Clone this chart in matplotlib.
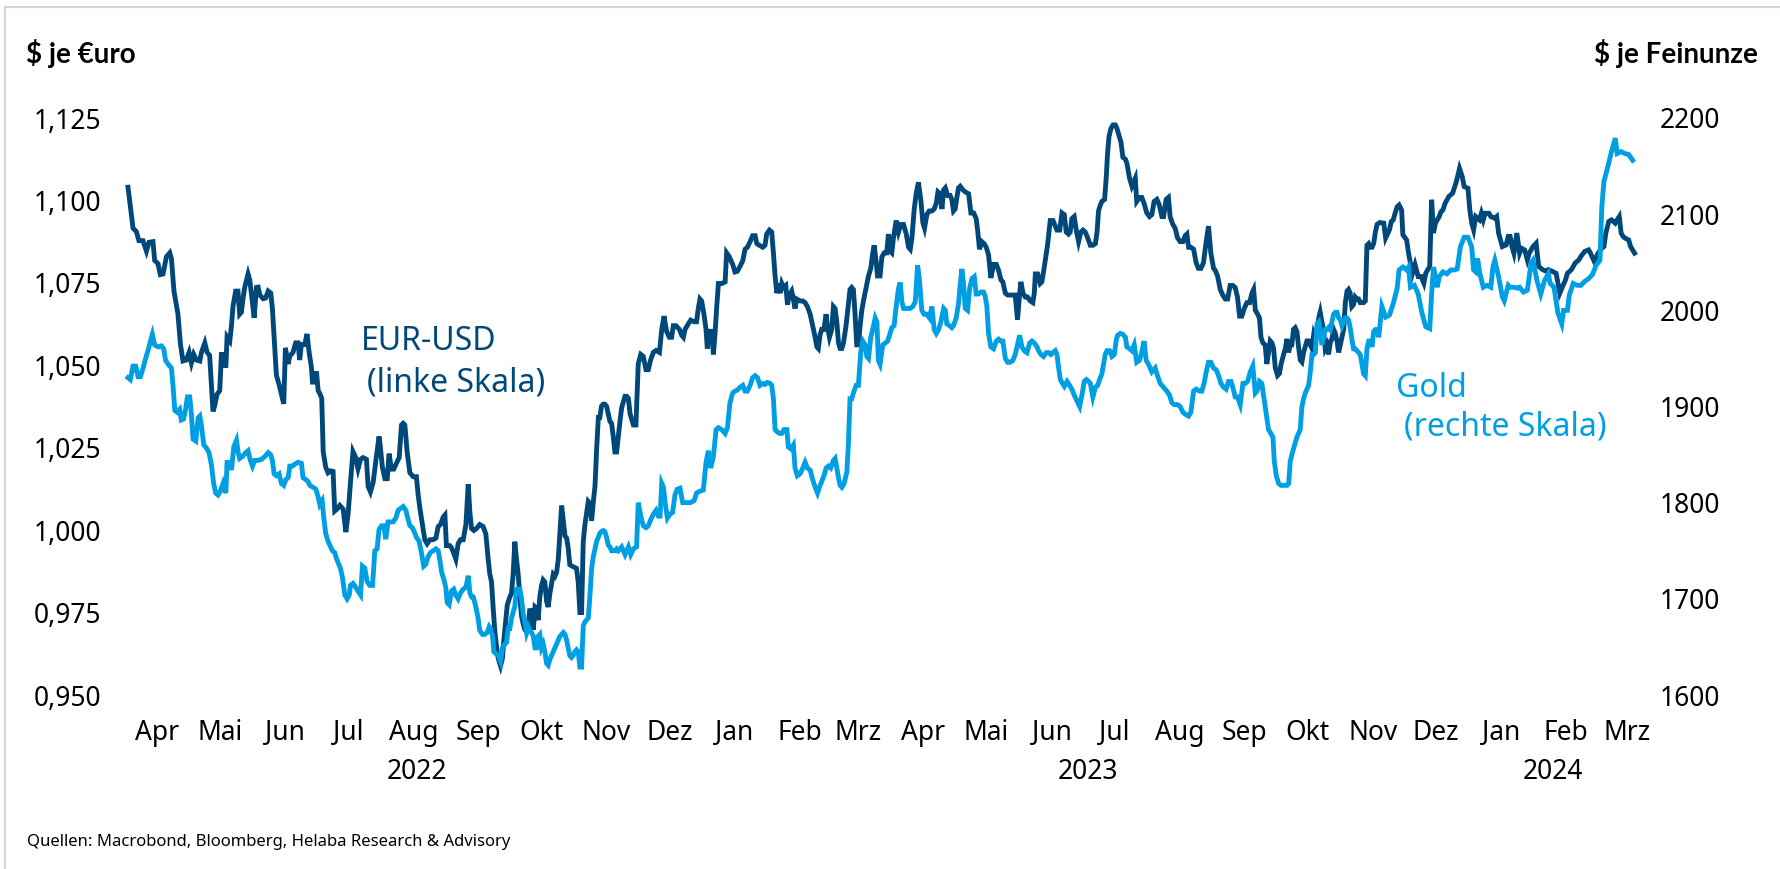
import datetime as dt
import matplotlib
matplotlib.use("Agg")
import matplotlib.pyplot as plt
from matplotlib.lines import Line2D

plt.rcParams['font.family'] = ['Noto Sans', 'DejaVu Sans']

# Tage seit 01.04.2022 und Werte
eur_day = [
    0, 2.4, 4.0, 5.2, 7.1, 8.8, 10.0, 11.9, 12.7, 14.3,
    15.4, 16.7, 18.3, 19.9, 20.7, 21.9, 23.8, 25.0, 26.2, 27.8,
    29.1, 30.2, 31.3, 32.6, 34.2, 35.0, 36.6, 37.7, 38.9, 40.5,
    41.3, 42.4, 43.7, 44.5, 45.3, 46.6, 47.2, 48.5, 49.3, 50.0,
    51.3, 52.4, 53.2, 54.0, 54.8, 55.6, 57.2, 58.0, 59.3, 60.1,
    61.2, 62.0, 62.8, 64.4, 65.6, 66.8, 68.0, 68.8, 69.6, 70.7,
    72.0, 73.1, 74.2, 75.0, 76.3, 77.1, 78.6, 79.9, 81.0, 81.8,
    82.6, 84.2, 85.3, 86.3, 87.4, 87.9, 89.0, 89.8, 90.6, 91.4,
    92.3, 93.0, 94.2, 95.3, 96.5, 97.7, 98.5, 99.6, 100.9, 102.5,
    103.8, 104.9, 106.0, 107.2, 108.5, 109.6, 110.8, 112.0, 113.6, 114.4,
    115.5, 116.8, 118.4, 119.6,
    120.0, 121.2, 122.4, 123.5, 124.4, 125.5, 126.6, 127.9, 129.2, 130.3,
    131.1, 131.9, 133.0, 134.3, 135.9, 137.4, 138.2, 139.0, 140.3, 141.4,
    142.5, 143.8, 145.4, 146.7, 147.8, 148.9, 150.2, 151.0, 151.7, 153.3,
    154.1, 155.2, 156.2, 157.3, 158.4, 159.7, 161.0, 162.1, 162.9, 163.7,
    164.8, 166.0, 167.6, 169.2, 170.5, 171.6, 172.4, 173.2, 174.0, 174.8,
    175.6, 176.4, 177.5, 178.4, 179.1, 180.0, 180.7, 181.9, 182.7, 183.5,
    184.3, 185.1, 185.9, 186.7, 187.5, 188.3, 189.1, 189.9, 190.7, 191.5,
    192.3, 193.1, 193.9, 194.7, 195.4, 196.2, 197.0, 197.8, 198.6, 199.4,
    200.2, 201.0, 201.8, 202.6, 203.4, 204.2, 205.0, 205.8, 206.6, 207.4,
    208.2, 209.0, 209.7, 210.5, 212.1, 213.7, 214.5, 215.3, 216.1, 216.9,
    217.7, 218.5, 219.3, 220.1, 220.9, 221.7, 222.5, 223.3, 224.1, 224.8,
    225.6, 226.4, 227.2, 228.0, 228.8, 229.6, 230.4, 231.2, 232.0, 232.8,
    233.6, 234.4, 235.2, 236.0, 236.8, 237.6, 238.4,
    239.2, 240.8, 242.0, 243.1, 244.3, 245.5, 246.8, 247.9, 249.0, 250.3,
    251.6, 253.2, 254.3, 255.4, 256.6, 257.9, 259.0, 259.8, 261.1, 262.7,
    263.8, 264.6, 265.4, 267.0, 268.1, 269.7, 270.9, 271.7, 272.5, 273.3,
    274.4, 275.4, 276.0, 277.0, 278.1, 278.9, 279.7, 280.5, 281.3, 282.9,
    284.5, 285.2, 286.5, 288.1, 289.2, 290.3, 291.6, 292.9, 294.0, 295.1,
    296.4, 297.6, 298.8, 299.6, 300.8, 302.4, 303.5, 304.3, 305.6, 306.7,
    307.5, 308.3, 309.1, 309.9, 310.7, 311.5, 312.3, 313.4, 314.2, 315.1,
    316.2, 317.0, 317.8, 318.6, 320.2, 321.5, 322.6, 323.7, 325.0, 326.2,
    327.4, 328.2, 328.9, 329.7, 330.5, 331.6, 332.6, 333.2, 334.2, 335.3,
    336.1, 336.9, 337.7, 338.5, 339.3, 340.1, 340.9, 342.1, 343.2, 344.0,
    344.8, 345.6, 346.4, 347.2, 348.0, 348.8, 349.6, 350.4, 351.7, 352.8,
    353.9, 354.7, 355.5, 356.4, 357.1, 358.3,
    359.2, 360.3, 361.5, 362.3, 363.1, 363.9, 364.7, 366.0, 367.1, 368.2,
    369.5, 370.8, 371.9, 372.7, 373.5, 374.6, 375.5, 376.6, 377.8, 378.7,
    379.5, 380.6, 381.7, 383.0, 384.1, 385.1, 385.9, 387.0, 387.8, 388.6,
    389.4, 390.5, 391.7, 392.5, 393.3, 394.1, 394.9, 395.7, 396.5, 397.8,
    398.9, 400.5, 401.6, 402.9, 404.1, 404.8, 405.7, 406.8, 407.9, 408.9,
    410.0, 411.1, 412.4, 413.7, 414.8, 415.9, 416.8, 418.0, 419.1, 420.3,
    421.6, 422.7, 423.8, 424.6, 425.4, 426.4, 427.5, 428.6, 429.9, 431.1,
    431.8, 432.3, 433.4, 434.6, 435.4, 436.2, 437.0, 438.1, 439.4, 440.7,
    441.8, 442.6, 443.9, 445.0, 446.1, 447.0, 448.1, 448.9, 449.7, 450.8,
    451.8, 452.9, 454.0, 455.0, 456.1, 457.2, 458.5, 459.7, 460.9, 461.7,
    462.4, 463.2, 464.0, 465.3, 466.1, 466.7, 467.4, 468.3, 469.3, 470.4,
    471.2, 472.0, 473.1, 474.0, 475.2, 475.9, 477.2,
    478.3, 479.9, 480.6, 481.9, 483.0, 484.1, 485.4, 486.7, 487.8, 488.9,
    490.2, 491.4, 492.6, 493.4, 494.6, 495.7, 496.5, 497.8, 498.9, 500.0,
    501.3, 502.6, 503.7, 504.5, 505.3, 506.4, 507.7, 508.9, 510.0, 511.2,
    512.4, 513.7, 514.8, 515.9, 517.2, 518.0, 519.1, 520.4, 521.6, 522.8,
    523.9, 525.1, 526.4, 527.5, 528.6, 529.6, 530.7, 531.8, 533.1, 534.4,
    535.5, 536.3, 537.1, 538.2, 539.1, 539.8, 540.7, 541.8, 542.6, 543.4,
    544.2, 545.0, 545.8, 546.6, 547.7, 548.6, 549.4, 550.6, 551.4, 552.2,
    553.0, 553.7, 554.5, 555.3, 556.1, 556.9, 557.7, 558.5, 559.3, 560.1,
    560.9, 561.7, 562.5, 563.3, 564.1, 564.9, 565.7, 566.5, 567.3, 568.0,
    568.8, 569.6, 570.4, 571.2, 572.0, 572.8, 573.6, 574.4, 575.2, 576.0,
    576.8, 577.6, 578.4, 579.2, 580.0, 580.8, 581.5, 582.3, 583.1, 583.9,
    584.7, 585.5, 586.3, 587.1, 588.7, 589.5, 590.3, 591.1, 591.9, 592.7,
    593.5, 594.3, 595.1, 596.4,
    598.3, 599.2, 601.0, 601.9, 602.8, 603.7, 604.7, 605.6, 606.8, 607.4,
    609.2, 610.1, 611.0, 612.0, 613.2, 614.7, 616.1, 617.4, 618.3, 620.2,
    621.1, 622.0, 622.9, 624.7, 625.6, 626.5, 627.5, 629.3, 631.1, 632.9,
    634.4, 635.7, 636.6, 638.4, 639.3, 640.2, 641.1, 642.1, 643.9, 644.8,
    645.7, 646.6, 648.4, 649.3, 651.2, 652.1, 653.0, 654.8, 656.6, 657.6,
    658.5, 659.4, 660.3, 661.7, 663.0, 663.9, 665.4, 666.7, 667.6, 669.4,
    670.9, 672.1, 674.0, 675.8, 676.7, 678.5, 680.4, 681.3, 682.2, 683.5,
    684.9, 685.8, 687.7, 689.5, 691.3, 692.2, 694.0, 695.9, 696.8, 698.6,
    700.4, 702.2, 703.2, 704.1, 705.5, 706.8, 708.6, 709.5, 710.5, 711.4,
    712.3, 713.2, 715.0, 715.9, 717.8,
]
eur_usd = [
    1.104, 1.0916, 1.0905, 1.0878, 1.0878, 1.0846, 1.0873, 1.0875, 1.0818, 1.0808,
    1.0775, 1.0777, 1.0829, 1.0841, 1.0823, 1.0725, 1.0655, 1.0563, 1.0513, 1.0516,
    1.0539, 1.0507, 1.0533, 1.0516, 1.0513, 1.0539, 1.0568, 1.0539, 1.0530, 1.0360,
    1.0377, 1.0412, 1.0423, 1.0533, 1.0533, 1.0493, 1.0586, 1.0574, 1.0620, 1.0678,
    1.0725, 1.0725, 1.0655, 1.0661, 1.0702, 1.0736, 1.0777, 1.0759, 1.0690, 1.0644,
    1.0736, 1.0737, 1.0713, 1.0702, 1.0704, 1.0725, 1.0719, 1.0672, 1.0586, 1.0470,
    1.0441, 1.0412, 1.0383, 1.0553, 1.0504, 1.0528, 1.0539, 1.0568, 1.0568, 1.0516,
    1.0563, 1.0563, 1.0595, 1.0539, 1.0493, 1.0449, 1.0449, 1.0481, 1.0423, 1.0414,
    1.0400, 1.0238, 1.0191, 1.0174, 1.0180, 1.0178, 1.0058, 1.0064, 1.0075, 1.0064,
    0.9994, 1.0052, 1.0145, 1.0238, 1.0220, 1.0186, 1.0215, 1.0220, 1.0215, 1.0133,
    1.0116, 1.0145, 1.0226, 1.0284,
    1.0266, 1.0191, 1.0156, 1.0156, 1.0232, 1.0185, 1.0185, 1.0203, 1.0220, 1.0319,
    1.0324, 1.0319, 1.0237, 1.0174, 1.0162, 1.0162, 1.0110, 1.0069, 1.0017, 0.9971,
    0.9959, 0.9971, 0.9971, 0.9976, 1.0011, 1.0017, 1.0040, 1.0046, 0.9953, 0.9953,
    0.9947, 0.9930, 0.9912, 0.9959, 0.9971, 0.9971, 1.0017, 1.0139, 1.0052, 1.0005,
    0.9999, 1.0005, 1.0017, 1.0011, 0.9988, 0.9912, 0.9866, 0.9843, 0.9762, 0.9692,
    0.9646, 0.9611, 0.9588, 0.9611, 0.9669, 0.9727, 0.9773, 0.9797, 0.9808, 0.9866,
    0.9965, 0.9912, 0.9866, 0.9797, 0.9739, 0.9715, 0.9698, 0.9692, 0.9715, 0.9762,
    0.9744, 0.9698, 0.9767, 0.9762, 0.9727, 0.9797, 0.9831, 0.9849, 0.9843, 0.9785,
    0.9767, 0.9808, 0.9838, 0.9866, 0.9860, 0.9872, 0.9912, 0.9994, 1.0075, 1.0029,
    0.9982, 0.9976, 0.9947, 0.9895, 0.9889, 0.9884, 0.9843, 0.9750, 0.9750, 0.9965,
    1.0017, 1.0052, 1.0087, 1.0081, 1.0029, 1.0087, 1.0133, 1.0249, 1.0342, 1.0342,
    1.0376, 1.0382, 1.0382, 1.0376, 1.0353, 1.0330, 1.0324, 1.0284, 1.0237, 1.0237,
    1.0284, 1.0330, 1.0371, 1.0388, 1.0406, 1.0406, 1.0400,
    1.0353, 1.0319, 1.0319, 1.0504, 1.0533, 1.0527, 1.0487, 1.0487, 1.0516, 1.0539,
    1.0545, 1.0539, 1.0609, 1.0649, 1.0603, 1.0585, 1.0585, 1.0620, 1.0620, 1.0609,
    1.0591, 1.0585, 1.0609, 1.0626, 1.0637, 1.0632, 1.0632, 1.0672, 1.0701, 1.0695,
    1.0655, 1.0609, 1.0551, 1.0603, 1.0603, 1.0533, 1.0597, 1.0678, 1.0748, 1.0748,
    1.0753, 1.0841, 1.0829, 1.0806, 1.0783, 1.0785, 1.0800, 1.0817, 1.0852, 1.0858,
    1.0875, 1.0893, 1.0893, 1.0869, 1.0864, 1.0858, 1.0864, 1.0898, 1.0910, 1.0904,
    1.0841, 1.0771, 1.0719, 1.0748, 1.0719, 1.0748, 1.0736, 1.0742, 1.0684, 1.0713,
    1.0725, 1.0701, 1.0672, 1.0701, 1.0695, 1.0695, 1.0690, 1.0678, 1.0655, 1.0620,
    1.0585, 1.0556, 1.0551, 1.0591, 1.0609, 1.0609, 1.0655, 1.0620, 1.0585, 1.0609,
    1.0678, 1.0672, 1.0632, 1.0568, 1.0551, 1.0551, 1.0568, 1.0620, 1.0684, 1.0730,
    1.0736, 1.0730, 1.0655, 1.0562, 1.0562, 1.0620, 1.0666, 1.0695, 1.0736, 1.0771,
    1.0794, 1.0835, 1.0864, 1.0817, 1.0771, 1.0771,
    1.0829, 1.0841, 1.0841, 1.0898, 1.0846, 1.0841, 1.0887, 1.0939, 1.0904, 1.0927,
    1.0927, 1.0898, 1.0858, 1.0852, 1.0887, 1.0974, 1.1020, 1.1055, 1.0997, 1.0933,
    1.0916, 1.0957, 1.0968, 1.0968, 1.0974, 1.0991, 1.1026, 1.1020, 1.0974, 1.1032,
    1.1038, 1.1015, 1.1015, 1.1003, 1.0968, 1.0974, 1.1009, 1.1038, 1.1043, 1.1032,
    1.1026, 1.1020, 1.0962, 1.0962, 1.0945, 1.0910, 1.0852, 1.0875, 1.0869, 1.0858,
    1.0835, 1.0765, 1.0806, 1.0806, 1.0788, 1.0759, 1.0753, 1.0719, 1.0713, 1.0713,
    1.0713, 1.0713, 1.0638, 1.0701, 1.0753, 1.0719, 1.0707, 1.0707, 1.0695, 1.0690,
    1.0719, 1.0777, 1.0777, 1.0748, 1.0753, 1.0783, 1.0817, 1.0864, 1.0939, 1.0939,
    1.0922, 1.0910, 1.0910, 1.0962, 1.0957, 1.0904, 1.0898, 1.0904, 1.0945, 1.0951,
    1.0910, 1.0875, 1.0904, 1.0910, 1.0904, 1.0887, 1.0864, 1.0864, 1.0869, 1.0904,
    1.0968, 1.0985, 1.0997, 1.1003, 1.1072, 1.1142, 1.1194, 1.1218, 1.1229, 1.1229,
    1.1218, 1.1200, 1.1177, 1.1131, 1.1125, 1.1113, 1.1067,
    1.1043, 1.1067, 1.0997, 1.1009, 1.1009, 1.0991, 1.0962, 1.0951, 1.0957, 1.0997,
    1.1003, 1.0986, 1.0951, 1.0951, 1.1003, 1.1009, 1.0951, 1.0927, 1.0916, 1.0887,
    1.0875, 1.0875, 1.0893, 1.0898, 1.0858, 1.0858, 1.0852, 1.0811, 1.0794, 1.0794,
    1.0811, 1.0875, 1.0922, 1.0841, 1.0794, 1.0788, 1.0771, 1.0730, 1.0713, 1.0701,
    1.0701, 1.0742, 1.0742, 1.0736, 1.0707, 1.0649, 1.0649, 1.0672, 1.0690, 1.0690,
    1.0719, 1.0730, 1.0667, 1.0655, 1.0643, 1.0585, 1.0568, 1.0562, 1.0504, 1.0539,
    1.0574, 1.0568, 1.0551, 1.0493, 1.0469, 1.0475, 1.0504, 1.0533, 1.0551, 1.0580,
    1.0539, 1.0562, 1.0562, 1.0609, 1.0614, 1.0603, 1.0556, 1.0516, 1.0510, 1.0539,
    1.0556, 1.0574, 1.0574, 1.0562, 1.0551, 1.0591, 1.0574, 1.0609, 1.0643, 1.0661,
    1.0632, 1.0609, 1.0551, 1.0562, 1.0533, 1.0568, 1.0580, 1.0609, 1.0597, 1.0574,
    1.0539, 1.0562, 1.0585, 1.0609, 1.0690, 1.0725, 1.0730, 1.0719, 1.0678, 1.0684,
    1.0707, 1.0701, 1.0701, 1.0690, 1.0690, 1.0695, 1.0864, 1.0869, 1.0858, 1.0858,
    1.0869, 1.0904, 1.0927, 1.0933,
    1.0931, 1.0886, 1.0911, 1.0936, 1.0941, 1.0961, 1.0981, 1.0986, 1.0971, 1.0896,
    1.0880, 1.0840, 1.0810, 1.0779, 1.0805, 1.0769, 1.0769, 1.0749, 1.0779, 1.0800,
    1.1002, 1.0901, 1.0931, 1.0951, 1.0966, 1.0971, 1.0991, 1.1012, 1.1022, 1.1057,
    1.1097, 1.1072, 1.1042, 1.1037, 1.0971, 1.0931, 1.0911, 1.0951, 1.0941, 1.0961,
    1.0941, 1.0961, 1.0961, 1.0951, 1.0946, 1.0951, 1.0901, 1.0860, 1.0865, 1.0891,
    1.0891, 1.0860, 1.0840, 1.0901, 1.0840, 1.0855, 1.0850, 1.0820, 1.0840, 1.0860,
    1.0870, 1.0800, 1.0790, 1.0785, 1.0790, 1.0785, 1.0779, 1.0749, 1.0719, 1.0739,
    1.0759, 1.0779, 1.0790, 1.0810, 1.0820, 1.0830, 1.0845, 1.0850, 1.0840, 1.0815,
    1.0840, 1.0855, 1.0860, 1.0901, 1.0936, 1.0941, 1.0931, 1.0941, 1.0951, 1.0901,
    1.0891, 1.0886, 1.0880, 1.0860, 1.0840,
]

gold_day = [
    0.0, 1.1, 2.4, 3.7, 4.8, 5.9, 7.2, 8.4, 9.5, 10.7,
    11.6, 12.7, 14.3, 15.9, 17.0, 17.9, 19.1, 20.7, 21.5, 22.3,
    23.4, 24.6, 25.4, 26.5, 27.5, 28.3, 29.4, 30.2, 31.0, 32.3,
    33.4, 34.2, 35.0, 36.1, 37.3, 38.6, 39.7, 40.8, 41.8, 42.9,
    44.0, 45.3, 46.6, 47.2, 48.5, 49.3, 50.4, 51.7, 52.5, 53.2,
    54.5, 56.1, 57.2, 58.3, 59.3, 60.4, 62.0, 63.6, 65.2, 66.8,
    67.9, 68.8, 69.6, 70.7, 72.0, 73.1, 74.2, 75.2, 76.3, 77.1,
    78.3, 79.5, 81.0, 82.6, 83.4, 84.7, 85.8, 86.6, 88.2, 89.5,
    90.6, 91.4, 92.5, 93.3, 94.2, 95.3, 96.1, 97.4, 98.5, 99.3,
    100.4, 101.2, 102.2, 103.3, 104.4, 105.4, 106.0, 107.2, 108.5, 109.6,
    110.8, 111.7, 112.8, 113.9, 115.2, 116.5, 117.6, 118.7,
    119.6, 120.8, 121.9, 122.8, 123.9, 125.1, 126.3, 127.6, 128.7, 129.8,
    131.1, 132.4, 133.5, 134.3, 135.5, 136.7, 137.4, 138.7, 139.8, 140.9,
    141.9, 143.0, 144.1, 145.4, 146.7, 147.8, 148.6, 149.4, 150.5, 151.4,
    152.1, 153.0, 154.1, 155.2, 156.2, 157.3, 158.4, 159.7, 161.0, 162.1,
    162.9, 163.7, 164.5, 165.7, 166.8, 167.6, 168.9, 170.0, 171.1, 172.1,
    172.7, 173.7, 174.3, 175.3, 176.4, 177.5, 178.4, 179.6, 180.4, 181.1,
    181.9, 182.7, 183.5, 184.3, 185.1, 185.9, 186.7, 187.5, 188.3, 189.1,
    189.9, 190.7, 191.5, 192.3, 193.1, 193.9, 194.7, 195.4, 196.2, 197.0,
    197.8, 198.6, 199.4, 200.2, 201.0, 201.8, 202.6, 203.4, 204.2, 205.0,
    205.8, 206.6, 207.4, 208.2, 209.0, 209.7, 210.5, 211.3, 212.1, 212.9,
    213.7, 214.5, 215.3, 216.1, 216.9, 217.7, 218.5, 219.3, 220.1, 220.9,
    221.7, 222.5, 223.3, 224.1, 224.8, 225.6, 226.4, 227.2, 228.0, 228.8,
    229.6, 230.4, 231.2, 232.0, 232.8, 233.6, 234.4, 235.2, 236.8, 238.4,
    239.5, 240.8, 242.3, 243.1, 244.3, 245.5, 246.8, 247.9, 249.0, 250.3,
    251.6, 252.7, 253.5, 254.3, 255.1, 255.9, 257.0, 258.2, 259.5, 260.6,
    261.7, 263.0, 264.3, 265.9, 267.8, 269.7, 270.9, 272.5, 274.1, 275.4,
    276.5, 277.6, 278.9, 280.2, 281.3, 282.9, 284.5, 285.6, 286.8, 288.1,
    289.2, 290.3, 291.6, 292.9, 294.0, 295.1, 296.4, 297.6, 298.8, 299.9,
    301.1, 302.4, 303.5, 304.6, 305.9, 306.7, 307.5, 308.3, 309.1, 310.4,
    311.5, 312.6, 313.9, 314.6, 315.8, 317.0, 317.8, 318.9, 320.2, 321.5,
    322.6, 323.7, 325.0, 326.2, 327.4, 328.5, 329.4, 330.5, 331.6, 332.6,
    333.7, 334.8, 336.1, 336.9, 337.7, 338.5, 339.3, 340.1, 341.2, 342.5,
    343.2, 344.0, 344.8, 345.9, 346.9, 348.0, 349.1, 350.1, 351.2, 352.0,
    352.8, 353.9, 354.8, 356.0, 356.8, 357.5, 358.3,
    359.6, 360.8, 361.9, 362.8, 363.9, 365.0, 366.0, 367.1, 367.9, 368.7,
    369.5, 371.1, 372.7, 373.9, 375.1, 376.2, 377.1, 378.2, 379.3, 380.6,
    381.9, 383.0, 384.1, 385.1, 386.2, 387.3, 388.6, 389.4, 390.1, 391.4,
    392.5, 393.3, 394.6, 395.7, 396.5, 397.3, 398.1, 398.9, 400.0, 401.0,
    402.1, 403.2, 404.1, 405.2, 406.4, 407.6, 408.4, 409.2, 410.0, 411.1,
    412.4, 413.7, 414.8, 415.9, 416.8, 418.0, 419.1, 420.3, 421.6, 422.7,
    423.8, 424.8, 425.9, 427.0, 428.3, 429.6, 430.7, 431.8, 433.1, 433.8,
    435.0, 436.2, 437.5, 438.6, 439.7, 440.7, 441.8, 442.6, 443.4, 444.2,
    445.0, 446.1, 447.4, 448.6, 449.7, 450.8, 452.1, 453.4, 454.5, 455.6,
    456.6, 457.7, 458.5, 459.7, 460.9, 462.0, 462.9, 464.0, 464.8, 465.6,
    466.4, 467.7, 468.8, 469.9, 470.9, 471.5, 472.8, 474.0, 475.2, 475.9,
    477.2,
    478.3, 479.4, 480.6, 481.9, 483.0, 484.1, 485.1, 486.2, 487.8, 489.4,
    490.5, 491.8, 493.4, 494.9, 496.2, 497.3, 498.4, 500.0, 501.3, 502.6,
    503.7, 505.3, 506.4, 507.7, 508.9, 510.5, 511.6, 512.7, 513.7, 514.8,
    515.9, 517.2, 518.5, 519.6, 520.7, 522.0, 523.2, 524.3, 525.5, 526.4,
    527.5, 528.6, 529.9, 531.2, 532.3, 533.4, 534.7, 535.9, 537.1, 537.9,
    539.1, 540.2, 541.0, 542.3, 543.4, 544.5, 545.5, 546.1, 547.1, 548.2,
    549.3, 550.6, 552.2, 553.0, 553.7, 554.5, 555.3, 556.1, 556.9, 557.7,
    558.5, 559.3, 560.1, 560.9, 561.7, 562.5, 563.3, 564.1, 564.9, 565.7,
    566.5, 567.3, 568.0, 568.8, 569.6, 570.4, 571.2, 572.0, 572.8, 573.6,
    574.4, 575.2, 576.0, 576.8, 577.6, 578.4, 579.2, 580.0, 580.8, 581.5,
    582.3, 583.1, 583.9, 584.7, 585.5, 586.3, 587.1, 587.9, 588.7, 589.5,
    590.3, 591.1, 591.9, 592.7, 593.5, 594.3, 595.1, 595.9,
    597.4, 599.2, 601.0, 602.8, 604.7, 605.6, 607.4, 609.2, 610.1, 611.0,
    612.9, 614.7, 616.5, 618.3, 620.2, 621.1, 622.0, 622.9, 623.8, 624.7,
    626.5, 628.4, 630.2, 632.0, 633.3, 634.8, 636.6, 638.4, 640.2, 641.1,
    642.1, 643.0, 643.9, 645.7, 647.5, 649.3, 650.3, 651.2, 653.0, 654.8,
    655.7, 657.6, 658.5, 660.3, 662.1, 663.0, 664.9, 666.7, 668.5, 669.4,
    671.3, 673.1, 674.9, 676.7, 677.6, 679.4, 681.3, 683.1, 684.0, 685.8,
    686.7, 688.6, 690.4, 692.2, 694.0, 695.9, 697.7, 699.5, 701.3, 702.2,
    703.2, 705.0, 706.8, 708.6, 709.5, 711.4, 713.2, 715.0, 716.9,
]
gold = [
    1930, 1928, 1942, 1942, 1931, 1931, 1940, 1950, 1958, 1968,
    1975, 1964, 1962, 1963, 1960, 1948, 1944, 1940, 1920, 1896,
    1894, 1897, 1886, 1887, 1898, 1910, 1910, 1892, 1866, 1864,
    1888, 1890, 1880, 1860, 1857, 1852, 1840, 1820, 1810, 1808,
    1812, 1820, 1810, 1842, 1842, 1834, 1858, 1865, 1852, 1846,
    1848, 1852, 1854, 1844, 1838, 1844, 1844, 1845, 1848, 1852,
    1850, 1844, 1830, 1828, 1830, 1820, 1818, 1824, 1826, 1838,
    1838, 1840, 1842, 1841, 1826, 1824, 1822, 1818, 1816, 1814,
    1806, 1798, 1802, 1784, 1768, 1760, 1756, 1750, 1748, 1742,
    1736, 1732, 1722, 1704, 1700, 1704, 1714, 1716, 1712, 1708,
    1704, 1734, 1732, 1718, 1714, 1714, 1750, 1752,
    1772, 1776, 1776, 1762, 1780, 1780, 1780, 1784, 1792, 1794,
    1796, 1792, 1782, 1776, 1774, 1768, 1764, 1760, 1748, 1734,
    1736, 1744, 1748, 1750, 1752, 1750, 1740, 1728, 1720, 1712,
    1696, 1694, 1708, 1710, 1704, 1700, 1706, 1710, 1712, 1724,
    1706, 1702, 1702, 1692, 1680, 1667, 1663, 1663, 1665, 1671,
    1669, 1661, 1645, 1643, 1641, 1635, 1649, 1653, 1655, 1669,
    1669, 1680, 1686, 1692, 1710, 1710, 1710, 1700, 1684, 1676,
    1665, 1671, 1667, 1665, 1661, 1649, 1649, 1661, 1663, 1649,
    1653, 1645, 1633, 1631, 1637, 1641, 1645, 1649, 1653, 1657,
    1661, 1663, 1665, 1663, 1657, 1649, 1641, 1639, 1641, 1645,
    1647, 1645, 1629, 1629, 1672, 1676, 1678, 1680, 1704, 1732,
    1744, 1752, 1760, 1764, 1768, 1770, 1771, 1770, 1764, 1756,
    1754, 1750, 1750, 1750, 1752, 1750, 1752, 1754, 1746, 1754,
    1746, 1752, 1754, 1800, 1786, 1776, 1774, 1776, 1782, 1788,
    1792, 1786, 1786, 1820, 1816, 1800, 1784, 1788, 1790, 1808,
    1814, 1815, 1800, 1800, 1800, 1802, 1810, 1812, 1813, 1842,
    1854, 1836, 1848, 1876, 1878, 1876, 1872, 1878, 1904, 1914,
    1916, 1917, 1920, 1922, 1916, 1916, 1922, 1930, 1932, 1930,
    1922, 1924, 1923, 1925, 1924, 1922, 1908, 1876, 1874, 1872,
    1872, 1876, 1876, 1858, 1856, 1860, 1836, 1828, 1830, 1836,
    1842, 1836, 1834, 1824, 1816, 1810, 1816, 1822, 1828, 1836,
    1838, 1836, 1844, 1846, 1836, 1826, 1818, 1816, 1820, 1832,
    1860, 1908, 1908, 1916, 1922, 1922, 1956, 1968, 1964, 1952,
    1950, 1972, 1980, 1992, 1988, 1948, 1944,
    1964, 1966, 1968, 1974, 1982, 1984, 2004, 2023, 2029, 2009,
    2002, 2002, 2002, 2004, 2009, 2047, 2031, 2000, 1996, 1996,
    1992, 2004, 1980, 1976, 1980, 1988, 2002, 2000, 1986, 1984,
    1982, 1984, 1992, 2007, 2027, 2043, 2027, 2002, 2000, 2023,
    2033, 2035, 2017, 2017, 2019, 2019, 2015, 2004, 1976, 1962,
    1960, 1968, 1970, 1968, 1968, 1950, 1946, 1946, 1948, 1954,
    1964, 1974, 1962, 1958, 1956, 1966, 1968, 1966, 1962, 1958,
    1954, 1952, 1956, 1956, 1954, 1956, 1958, 1954, 1940, 1928,
    1925, 1921, 1926, 1922, 1918, 1912, 1906, 1900, 1912, 1926,
    1928, 1926, 1924, 1910, 1920, 1922, 1928, 1934, 1944, 1954,
    1958, 1958, 1952, 1954, 1970, 1974, 1976, 1975, 1972, 1962,
    1960,
    1958, 1964, 1946, 1948, 1956, 1968, 1948, 1944, 1936, 1940,
    1932, 1924, 1920, 1916, 1912, 1904, 1902, 1902, 1900, 1894,
    1892, 1890, 1894, 1916, 1918, 1916, 1916, 1924, 1936, 1946,
    1946, 1940, 1938, 1932, 1924, 1920, 1918, 1926, 1926, 1920,
    1910, 1910, 1902, 1924, 1924, 1926, 1936, 1942, 1914, 1916,
    1926, 1924, 1912, 1892, 1876, 1872, 1868, 1844, 1828, 1820,
    1818, 1818, 1818, 1820, 1842, 1850, 1856, 1862, 1868, 1872,
    1876, 1900, 1908, 1914, 1918, 1922, 1936, 1954, 1954, 1956,
    1986, 1988, 1980, 1964, 1972, 1980, 1980, 1982, 1980, 1988,
    1996, 1998, 1998, 1992, 1990, 1984, 1988, 1992, 1992, 1990,
    1982, 1970, 1960, 1960, 1958, 1956, 1954, 1944, 1934, 1932,
    1960, 1968, 1968, 1962, 1978, 1980, 1980, 1972,
    2004, 1993, 1995, 2007, 2023, 2042, 2045, 2042, 2045, 2024,
    2026, 2017, 1997, 1983, 1981, 2017, 2045, 2035, 2024, 2035,
    2040, 2038, 2042, 2042, 2043, 2066, 2076, 2076, 2066, 2042,
    2040, 2054, 2040, 2024, 2026, 2024, 2045, 2052, 2035, 2014,
    2010, 2026, 2024, 2024, 2023, 2024, 2019, 2021, 2049, 2052,
    2031, 2017, 2031, 2038, 2028, 2024, 1997, 1986, 2000, 2000,
    2016, 2028, 2026, 2026, 2030, 2033, 2037, 2047, 2052, 2108,
    2134, 2149, 2165, 2179, 2163, 2165, 2163, 2162, 2156,
]

month_labels = ['Apr', 'Mai', 'Jun', 'Jul', 'Aug', 'Sep', 'Okt', 'Nov', 'Dez',
                'Jan', 'Feb', 'Mrz', 'Apr', 'Mai', 'Jun', 'Jul', 'Aug', 'Sep',
                'Okt', 'Nov', 'Dez', 'Jan', 'Feb', 'Mrz']
years = [2022, 2023, 2024]
eur_ticks = [0.950, 0.975, 1.000, 1.025, 1.050, 1.075, 1.100, 1.125]
gold_ticks = [1600, 1700, 1800, 1900, 2000, 2100, 2200]

start = dt.datetime(2022, 4, 1)
x_end = start + dt.timedelta(days=718)

def to_dates(days):
    return [start + dt.timedelta(days=d) for d in days]

dark = '#00477a'
light = '#009fe3'

W, H = 1780, 869
fig = plt.figure(figsize=(W / 100, H / 100), dpi=100)
ax_l, ax_r, ax_t, ax_b = 128, 1635, 118, 695
ax = fig.add_axes([ax_l / W, 1 - ax_b / H, (ax_r - ax_l) / W, (ax_b - ax_t) / H])
ax2 = ax.twinx()

ax.plot(to_dates(eur_day), eur_usd, color=dark, lw=3.5, solid_joinstyle='miter', clip_on=False)
ax2.plot(to_dates(gold_day), gold, color=light, lw=3.5, solid_joinstyle='miter', clip_on=False)

ax.set_xlim(start, x_end)
ax.set_ylim(0.95, 1.125)
ax2.set_ylim(1600, 2200)

ax.set_yticks(eur_ticks)
ax.set_yticklabels([f"{v:.3f}".replace('.', ',') for v in eur_ticks])
ax2.set_yticks(gold_ticks)
ax2.set_yticklabels([str(v) for v in gold_ticks])

# Monatsnamen in der Monatsmitte
mid_months = []
y, m = 2022, 4
for _ in month_labels:
    mid_months.append(dt.datetime(y, m, 15))
    m += 1
    if m > 12:
        m, y = 1, y + 1
ax.set_xticks(mid_months)
ax.set_xticklabels(month_labels)

ax.tick_params(axis='y', length=0, pad=19, labelsize=19)
ax2.tick_params(axis='y', length=0, pad=18, labelsize=19)
ax.tick_params(axis='x', length=0, pad=17, labelsize=19)

for a in (ax, ax2):
    for s in a.spines.values():
        s.set_visible(False)

# Jahreszahlen mittig unter dem jeweiligen Zeitraum
for yr in years:
    a = max(start, dt.datetime(yr, 1, 1))
    b = min(x_end, dt.datetime(yr + 1, 1, 1))
    mid = a + (b - a) / 2
    ax.text(mid, -(772 - ax_b) / (ax_b - ax_t), str(yr), transform=ax.get_xaxis_transform(),
            ha='center', va='center', fontsize=19)

title_font = ['Lato', 'DejaVu Sans']
fig.text(26 / W, 1 - 54 / H, '$ je €uro', fontsize=20, fontweight='bold',
         family=title_font, va='center', ha='left')
fig.text(1758 / W, 1 - 54 / H, '$ je Feinunze', fontsize=20, fontweight='bold',
         family=title_font, va='center', ha='right')

fig.text(361 / W, 1 - 342 / H, 'EUR-USD', color=dark, fontsize=23, va='center')
fig.text(367 / W, 1 - 383 / H, '(linke Skala)', color=dark, fontsize=23, va='center')
fig.text(1396 / W, 1 - 389 / H, 'Gold', color=light, fontsize=23, va='center')
fig.text(1404 / W, 1 - 427 / H, '(rechte Skala)', color=light, fontsize=23, va='center')

fig.text(27 / W, 1 - 842 / H, 'Quellen: Macrobond, Bloomberg, Helaba Research & Advisory',
         fontsize=12, va='center')

# dünner grauer Rahmen oben und links
fig.add_artist(Line2D([5 / W, 1], [1 - 7 / H, 1 - 7 / H], color='#d6d6d6', lw=1.6))
fig.add_artist(Line2D([5 / W, 5 / W], [0, 1 - 7 / H], color='#d6d6d6', lw=1.6))

fig.savefig('out.png', dpi=100)
